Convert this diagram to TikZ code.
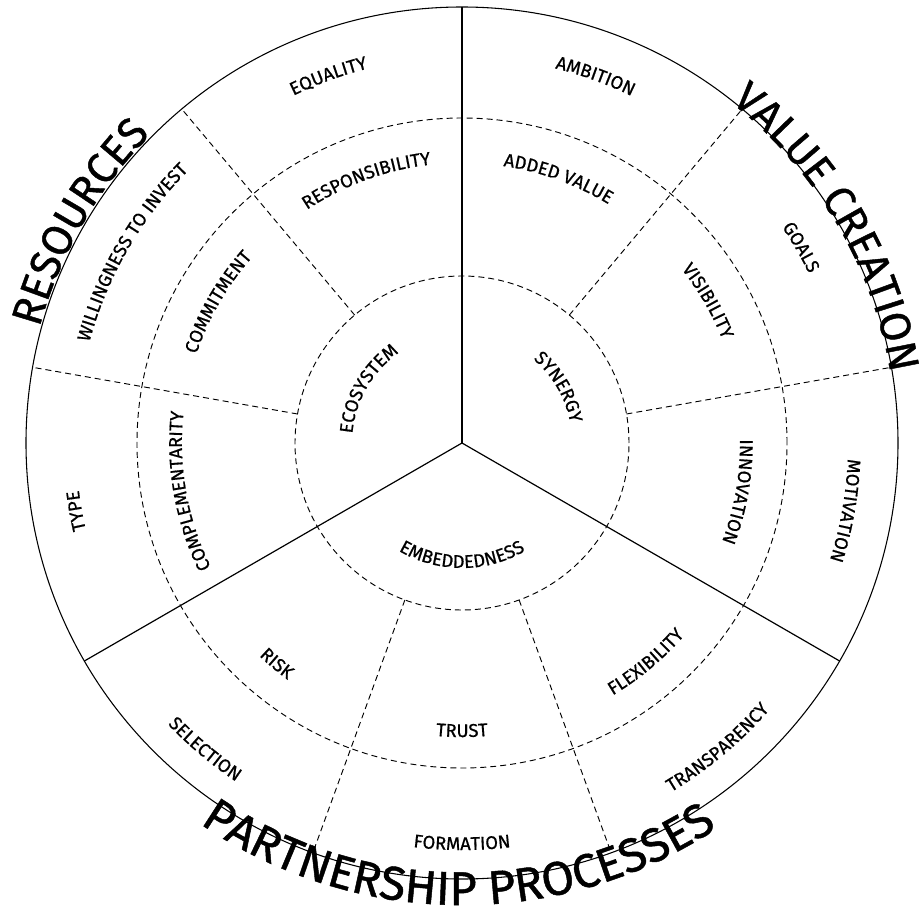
\documentclass[tikz,border=0pt]{standalone}
\usepackage{fontspec}
\setmainfont{Fira Sans}
\newfontfamily\labelfamily{Fira Sans}[FakeBold=0.7]
\newfontfamily\titlefamily{Fira Sans}[FakeBold=1]
\usetikzlibrary{decorations.text}

\newcommand{\labelfont}{\labelfamily\fontsize{13.8}{15}\selectfont}
\newcommand{\titlefont}{\titlefamily\fontsize{32}{35}\selectfont}
\newcommand{\bigtitlefont}{\titlefamily\fontsize{35.5}{38}\selectfont}

\tikzset{
  spoke/.style={line width=0.9pt},
  rim/.style={line width=0.8pt},
  ring/.style={line width=0.7pt, dash pattern=on 4.5pt off 3pt},
  curvedtext/.style={decorate, decoration={text along path, text align=center, text={#1}}},
}

\begin{document}
\begin{tikzpicture}[x=0.75pt,y=0.75pt]
\useasboundingbox (-462,-470) rectangle (457,443);

%Shape: Circle
\draw [rim] (0,0) circle [radius=436];
%Shape: Circle
\draw [ring] (0,0) circle [radius=325];
%Shape: Circle
\draw [ring] (0,0) circle [radius=167];

%Straight Lines
\draw [spoke] (0,0) -- (90:436);
%Straight Lines
\draw [spoke] (0,0) -- (210:436);
%Straight Lines
\draw [spoke] (0,0) -- (330:436);

%Dashed Lines
\draw [ring] (130:167) -- (130:436);
\draw [ring] (170:167) -- (170:436);
\draw [ring] (50:167) -- (50:436);
\draw [ring] (10:167) -- (10:436);
\draw [ring] (250:167) -- (250:436);
\draw [ring] (290:167) -- (290:436);

% Text Node -- inner ring
\path [curvedtext={|\labelfont|ECOSYSTEM}] (210:110) arc [start angle=210, end angle=90, radius=110];
\path [curvedtext={|\labelfont|SYNERGY}] (90:110) arc [start angle=90, end angle=-30, radius=110];
\path [curvedtext={|\labelfont|EMBEDDEDNESS}] (210:125) arc [start angle=210, end angle=330, radius=125];

% Text Node -- middle ring
\path [curvedtext={|\labelfont|RESPONSIBILITY}] (170:280) arc [start angle=170, end angle=50, radius=280];
\path [curvedtext={|\labelfont|COMMITMENT}] (210:280) arc [start angle=210, end angle=90, radius=280];
\path [curvedtext={|\labelfont|COMPLEMENTARITY}] (250:280) arc [start angle=250, end angle=130, radius=280];
\path [curvedtext={|\labelfont|ADDED VALUE}] (130:280) arc [start angle=130, end angle=10, radius=280];
\path [curvedtext={|\labelfont|VISIBILITY}] (90:280) arc [start angle=90, end angle=-30, radius=280];
\path [curvedtext={|\labelfont|INNOVATION}] (50:278) arc [start angle=50, end angle=-70, radius=278];
\path [curvedtext={|\labelfont|RISK}] (170:294) arc [start angle=170, end angle=290, radius=294];
\path [curvedtext={|\labelfont|TRUST}] (210:294) arc [start angle=210, end angle=330, radius=294];
\path [curvedtext={|\labelfont|FLEXIBILITY}] (250:294) arc [start angle=250, end angle=370, radius=294];

% Text Node -- outer ring
\path [curvedtext={|\labelfont|EQUALITY}] (170:386) arc [start angle=170, end angle=50, radius=386];
\path [curvedtext={|\labelfont|WILLINGNESS TO INVEST}] (210:386) arc [start angle=210, end angle=90, radius=386];
\path [curvedtext={|\labelfont|TYPE}] (250:386) arc [start angle=250, end angle=130, radius=386];
\path [curvedtext={|\labelfont|AMBITION}] (130:386) arc [start angle=130, end angle=10, radius=386];
\path [curvedtext={|\labelfont|GOALS}] (90:386) arc [start angle=90, end angle=-30, radius=386];
\path [curvedtext={|\labelfont|MOTIVATION}] (50:386) arc [start angle=50, end angle=-70, radius=386];
\path [curvedtext={|\labelfont|SELECTION}] (170:407) arc [start angle=170, end angle=290, radius=407];
\path [curvedtext={|\labelfont|FORMATION}] (210:407) arc [start angle=210, end angle=330, radius=407];
\path [curvedtext={|\labelfont|TRANSPARENCY}] (250:407) arc [start angle=250, end angle=370, radius=407];

% Text Node -- titles
\path [curvedtext={|\titlefont|RESOURCES}] (210:438) arc [start angle=210, end angle=90, radius=438];
\path [curvedtext={|\titlefont|VALUE CREATION}] (90.5:434) arc [start angle=90.5, end angle=-29.5, radius=434];
\path [curvedtext={|\bigtitlefont|PARTNERSHIP PROCESSES}] (209.5:462) arc [start angle=209.5, end angle=329.5, radius=462];

\end{tikzpicture}
\end{document}
